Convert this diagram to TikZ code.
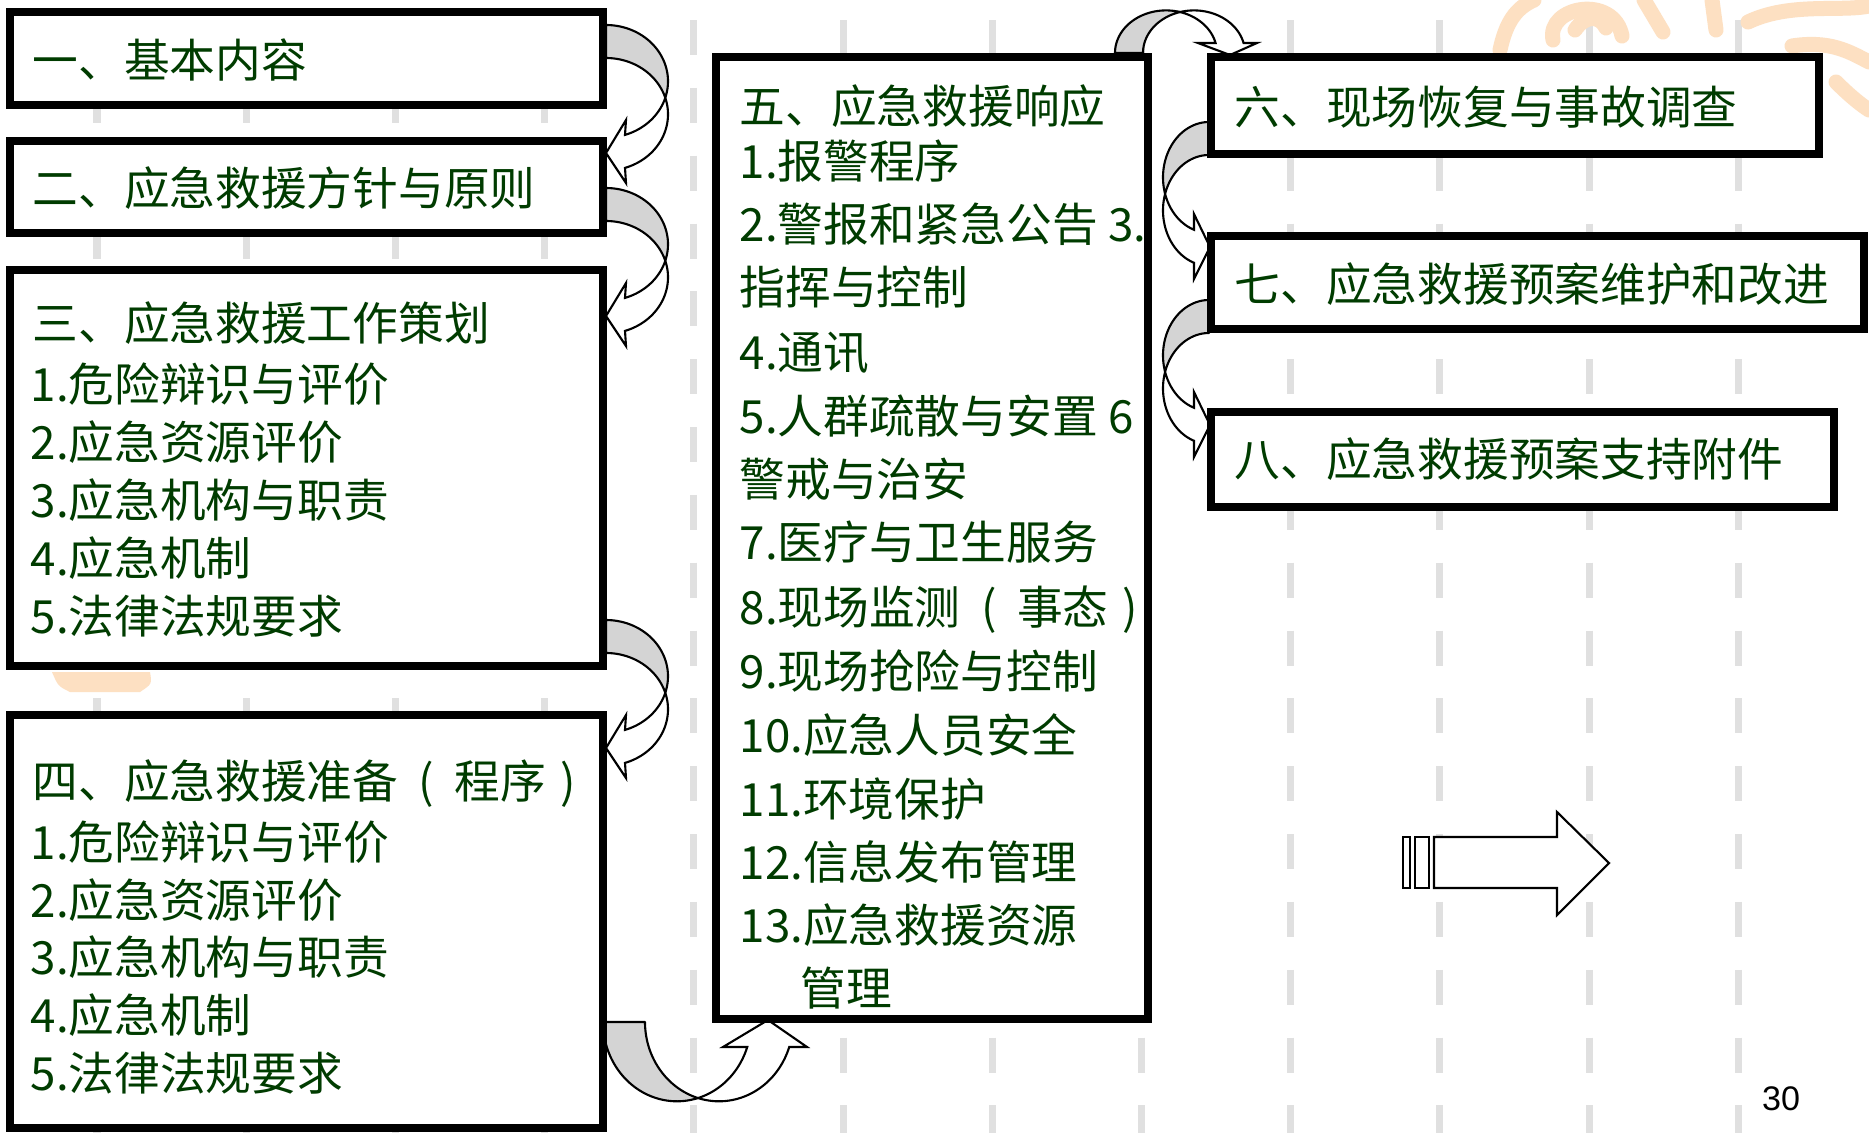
\documentclass[tikz,border=0pt]{standalone}
\usepackage{fontspec}
\newfontfamily\cjk{Noto Sans CJK SC}
\newfontfamily\arialf{Liberation Sans}
\usetikzlibrary{fit}
\definecolor{tgreen}{HTML}{003C00}
\definecolor{dashgray}{HTML}{E0E0E0}
\definecolor{bandgray}{HTML}{D4D4D4}
\definecolor{wmorange}{HTML}{FDE0C2}
% local frame of a curved block arrow: origin, unit vector of bulge (u), unit vector of travel (v)
\newcommand\setframe[6]{\def\aox{#1}\def\aoy{#2}\def\aux{#3}\def\auy{#4}\def\avx{#5}\def\avy{#6}}
% #1 bulge radius, #2 travel radius, #3 band thickness, #4 shaft end (u),
% #5 barb1 v, #6 barb2 v, #7 barb u, #8 tip u, #9 tip v
\newcommand\cvarrow[9]{%
  \pgfmathsetmacro\crx{#1}%
  \pgfmathsetmacro\cry{#2}%
  \pgfmathsetmacro\cd{#3}%
  \pgfmathsetmacro\ctI{asin(\cd/(2*\cry))}%
  \pgfmathsetmacro\ctE{acos((#4)/\crx)}%
  \pgfmathsetmacro\cmI{-\ctI}%
  \pgfmathsetmacro\cmE{-\ctE}%
  \filldraw[band]
    plot[domain=-90:\cmI,samples=40,variable=\t]
      ({\aox+\crx*cos(\t)*(\aux)+(\cry+\cd+\cry*sin(\t))*(\avx)},{\aoy+\crx*cos(\t)*(\auy)+(\cry+\cd+\cry*sin(\t))*(\avy)})
    -- plot[domain=\cmI:90,samples=40,variable=\t]
      ({\aox+\crx*cos(\t)*(\aux)+(\cry-\cry*sin(\t))*(\avx)},{\aoy+\crx*cos(\t)*(\auy)+(\cry-\cry*sin(\t))*(\avy)})
    -- cycle;
  \filldraw[front]
    plot[domain=\cmI:\ctE,samples=40,variable=\t]
      ({\aox+\crx*cos(\t)*(\aux)+(\cry+\cd+\cry*sin(\t))*(\avx)},{\aoy+\crx*cos(\t)*(\auy)+(\cry+\cd+\cry*sin(\t))*(\avy)})
    -- ({\aox+(#7)*(\aux)+(#6)*(\avx)},{\aoy+(#7)*(\auy)+(#6)*(\avy)})
    -- ({\aox+(#8)*(\aux)+(#9)*(\avx)},{\aoy+(#8)*(\auy)+(#9)*(\avy)})
    -- ({\aox+(#7)*(\aux)+(#5)*(\avx)},{\aoy+(#7)*(\auy)+(#5)*(\avy)})
    -- plot[domain=\cmE:\cmI,samples=40,variable=\t]
      ({\aox+\crx*cos(\t)*(\aux)+(\cry-\cry*sin(\t))*(\avx)},{\aoy+\crx*cos(\t)*(\auy)+(\cry-\cry*sin(\t))*(\avy)})
    -- cycle;
}
\newcommand\lpar{\hspace{0.45em}(\hspace{0.45em}}
\newcommand\rpar{\hspace{0.3em})}
\begin{document}
\begin{tikzpicture}[x=0.01cm,y=-0.01cm,
  box/.style={draw=black, line width=0.08cm, fill=white, inner sep=0pt},
  txt/.style={font=\cjk\fontsize{13pt}{16pt}\selectfont, text=tgreen, inner sep=0pt, anchor=base west},
  dashline/.style={draw=dashgray, line width=0.07cm, dash pattern=on 0.35cm off 0.328cm},
  band/.style={fill=bandgray, draw=black, line width=0.6pt, line join=round},
  front/.style={fill=white, draw=black, line width=0.6pt, line join=miter},
  wm/.style={draw=wmorange, line width=0.15cm, line cap=round},
  hollow/.style={fill=white, draw=black, line width=0.6pt}
]
\useasboundingbox (0,0) rectangle (1869,1133);
\clip (0,0) rectangle (1869,1133);
\fill[white] (0,0) rectangle (1869,1133);
% background dashed guide lines
\foreach \k in {0,...,11}
  \draw[dashline] ({97+149.2*\k},20) -- ({97+149.2*\k},1133);
% faint watermark
\draw[wm] (1500,50) .. controls (1506,22) and (1516,8) .. (1534,0);
\draw[wm] (1553,40) .. controls (1546,6) and (1614,-6) .. (1622,36);
\draw[wm] (1575,30) .. controls (1585,15) and (1600,15) .. (1606,28);
\draw[wm] (1644,0) -- (1663,32);
\draw[wm] (1712,0) -- (1716,30);
\draw[wm] (1748,22) .. controls (1790,2) and (1840,12) .. (1869,6);
\draw[wm] (1792,46) .. controls (1830,40) and (1850,52) .. (1869,62);
\draw[wm] (1836,82) .. controls (1850,96) and (1860,104) .. (1869,110);
\fill[wmorange] (52,672) -- (150,672) .. controls (152,684) .. (140,692) -- (70,692) .. controls (58,686) .. (52,672) -- cycle;

% curved block arrows
\setframe{606}{25}{1}{0}{0}{1}
\cvarrow{62}{56.3}{33}{19}{95}{158}{20}{0}{128}
\setframe{606}{188}{1}{0}{0}{1}
\cvarrow{62}{56.3}{33}{19}{95}{158}{20}{0}{128}
\setframe{606}{620}{1}{0}{0}{1}
\cvarrow{62}{56.3}{33}{19}{95}{158}{20}{0}{128}
\setframe{603}{1022}{0}{1}{1}{0}
\cvarrow{79.3}{74}{42}{25}{120}{204}{25}{-2}{165}
\setframe{1115}{53}{0}{-1}{1}{0}
\cvarrow{42.6}{51}{28}{10}{83}{142}{10}{-2}{115}
\setframe{1209}{122}{-1}{0}{0}{1}
\cvarrow{46}{55.4}{33}{15}{92}{157}{15}{-1}{125}
\setframe{1209}{300}{-1}{0}{0}{1}
\cvarrow{46}{55.4}{33}{15}{92}{157}{15}{-1}{125}

% boxes
\node[box, fit={(10,12) (603,105)}] (b1) {};
\node[box, fit={(10,141) (603,233)}] (b2) {};
\node[box, fit={(10,270) (603,666)}] (b3) {};
\node[box, fit={(10,715) (603,1128)}] (b4) {};
\node[box, fit={(716,57) (1148,1019)}] (b5) {};
\node[box, fit={(1211,57) (1819,154)}] (b6) {};
\node[box, fit={(1211,236) (1864,329)}] (b7) {};
\node[box, fit={(1211,412) (1834,507)}] (b8) {};

% texts
\node[txt] (t1) at (32,77) {一、基本内容};
\node[txt] (t2) at (32,205) {二、应急救援方针与原则};
\node[txt] (t3a) at (32,340) {三、应急救援工作策划};
\node[txt] (t3b) at (30,401) {1.危险辩识与评价};
\node[txt] (t3c) at (30,459) {2.应急资源评价};
\node[txt] (t3d) at (30,517) {3.应急机构与职责};
\node[txt] (t3e) at (30,575) {4.应急机制};
\node[txt] (t3f) at (30,633) {5.法律法规要求};
\node[txt] (t4a) at (32,798) {四、应急救援准备\lpar 程序\rpar};
\node[txt] (t4b) at (30,859) {1.危险辩识与评价};
\node[txt] (t4c) at (30,917) {2.应急资源评价};
\node[txt] (t4d) at (30,974) {3.应急机构与职责};
\node[txt] (t4e) at (30,1032) {4.应急机制};
\node[txt] (t4f) at (30,1090) {5.法律法规要求};
\node[txt] (t5a) at (739,123) {五、应急救援响应};
\node[txt] (t5b) at (739,178) {1.报警程序};
\node[txt] (t5c) at (739,241) {2.警报和紧急公告 3.};
\node[txt] (t5d) at (739,304) {指挥与控制};
\node[txt] (t5e) at (739,369) {4.通讯};
\node[txt] (t5f) at (739,433) {5.人群疏散与安置 6};
\node[txt] (t5g) at (739,496) {警戒与治安};
\node[txt] (t5h) at (739,559) {7.医疗与卫生服务};
\node[txt] (t5i) at (739,624) {8.现场监测\lpar 事态\rpar};
\node[txt] (t5j) at (739,688) {9.现场抢险与控制};
\node[txt] (t5k) at (739,752) {10.应急人员安全};
\node[txt] (t5l) at (739,816) {11.环境保护};
\node[txt] (t5m) at (739,879) {12.信息发布管理};
\node[txt] (t5n) at (739,942) {13.应急救援资源};
\node[txt] (t5o) at (800,1005) {管理};
\node[txt] (t6) at (1234,124) {六、现场恢复与事故调查};
\node[txt] (t7) at (1234,301) {七、应急救援预案维护和改进};
\node[txt] (t8) at (1234,476) {八、应急救援预案支持附件};

% hollow striped arrow
\draw[hollow] (1403,837) rectangle (1410,888);
\draw[hollow] (1415,837) rectangle (1429,888);
\draw[hollow] (1434,837) -- (1557,837) -- (1557,812) -- (1609,863) -- (1557,915) -- (1557,888) -- (1434,888) -- cycle;

% page number
\node[font=\arialf\fontsize{9.7pt}{11pt}\selectfont, inner sep=0pt] (pg) at (1781,1099) {30};
\end{tikzpicture}
\end{document}
